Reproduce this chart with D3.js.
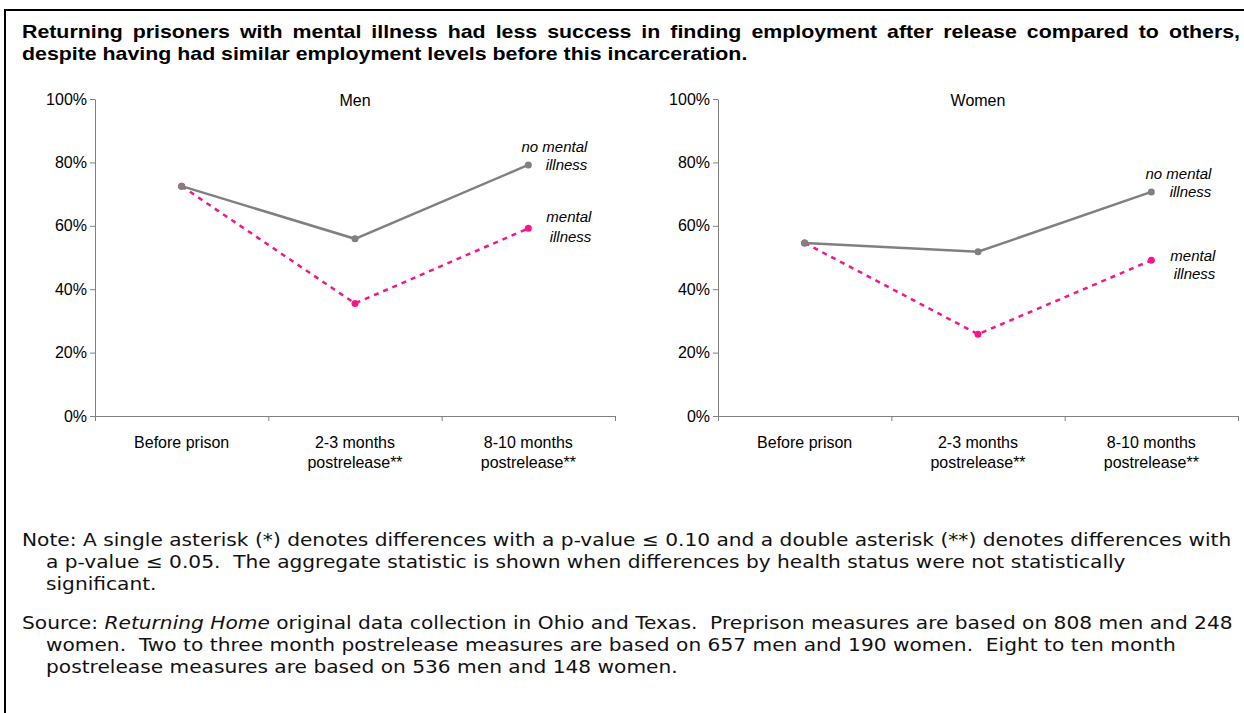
<!DOCTYPE html>
<html><head><meta charset="utf-8">
<script src="https://cdn.jsdelivr.net/npm/d3@7"></script>
<style>
body{margin:0;background:#fff;}
svg{display:block;}
text{white-space:pre;}
</style></head>
<body>
<svg id="chart" width="1244" height="713"></svg>
<script>
// ---- data ----
const categories = ["Before prison", "2-3 months|postrelease**", "8-10 months|postrelease**"];
const panels = ["Men", "Women"];
const menNoMentalIllness = [72.5, 55.9, 79.2];
const menMentalIllness = [72.5, 35.5, 59.2];
const womenNoMentalIllness = [54.6, 51.8, 70.7];
const womenMentalIllness = [54.6, 25.8, 49.1];
const yTicks = [0, 20, 40, 60, 80, 100];
const titleLines = [
  "Returning prisoners with mental illness had less success in finding employment after release compared to others,",
  "despite having had similar employment levels before this incarceration."
];
const noteLines = [
  "Note: A single asterisk (*) denotes differences with a p-value \u2264 0.10 and a double asterisk (**) denotes differences with",
  "a p-value \u2264 0.05.  The aggregate statistic is shown when differences by health status were not statistically",
  "significant."
];
const sourceLines = [
  [["Source: ", false], ["Returning Home", true], [" original data collection in Ohio and Texas.  Preprison measures are based on 808 men and 248", false]],
  [["women.  Two to three month postrelease measures are based on 657 men and 190 women.  Eight to ten month", false]],
  [["postrelease measures are based on 536 men and 148 women.", false]]
];

// ---- drawing ----
const svg = d3.select("#chart");
const GRAY = "#808080", PINK = "#f5168a";
const sans = "'Liberation Sans', Arial, sans-serif";
const noteFont = "'DejaVu Sans', sans-serif";
const FS = 16;

// frame
svg.append("path").attr("d", "M5,720 L5,10 L1250,10")
  .attr("fill", "none").attr("stroke", "#000").attr("stroke-width", 2);

// title: horizontally stretched so line 2 matches, line 1 justified
const titleG = svg.append("g").attr("font-family", sans).attr("font-weight", "bold").attr("font-size", 17.5).attr("fill", "#000");
const tNodes = titleLines.map((t, i) => titleG.append("text").attr("x", 0).attr("y", 38 + i * 22).text(t));
{
  const w2 = tNodes[1].node().getComputedTextLength();
  const s = 726 / w2;
  titleG.attr("transform", `translate(22,0) scale(${s},1)`);
  const w = tNodes[0].node().getComputedTextLength();
  const spaces = titleLines[0].split(" ").length - 1;
  tNodes[0].attr("word-spacing", (1218 / s - w) / spaces);
}

const panelData = [
  {name: panels[0], x0: 95, noMI: menNoMentalIllness, mi: menMentalIllness, noOff: [-13, 5], miOff: [-6, 14], lx: 59},
  {name: panels[1], x0: 718, noMI: womenNoMentalIllness, mi: womenMentalIllness, noOff: [-13, 5], miOff: [1, 19], lx: 60}
];
const W = 520, yTop = 99, yBot = 416;
const y = d3.scaleLinear().domain([0, 100]).range([yBot, yTop]);

panelData.forEach(p => {
  const g = svg.append("g");
  const xb = d3.scaleBand().domain(categories).range([p.x0, p.x0 + W]);
  const xl = d3.scaleLinear().domain([0, categories.length]).range([p.x0, p.x0 + W]);
  const cx = c => xb(c) + xb.bandwidth() / 2;

  // y axis
  const ya = g.append("g").attr("transform", `translate(${p.x0},0)`)
    .call(d3.axisLeft(y).tickValues(yTicks).tickFormat(d => d + "%").tickSize(5).tickSizeOuter(0).tickPadding(3));
  ya.select(".domain").attr("stroke", GRAY);
  ya.selectAll(".tick line").attr("stroke", GRAY);
  ya.selectAll(".tick text").attr("font-family", sans).attr("font-size", FS).attr("fill", "#000");

  // x axis (boundary ticks)
  const xa = g.append("g").attr("transform", `translate(0,${yBot})`)
    .call(d3.axisBottom(xl).tickValues(d3.range(categories.length + 1)).tickFormat("").tickSize(5).tickSizeOuter(0));
  xa.select(".domain").attr("stroke", GRAY);
  xa.selectAll(".tick line").attr("stroke", GRAY);

  // category labels
  categories.forEach(c => {
    const parts = c.split("|");
    const t = g.append("text").attr("x", cx(c)).attr("y", 448).attr("text-anchor", "middle")
      .attr("font-family", sans).attr("font-size", FS).attr("fill", "#000");
    parts.forEach((s, i) => t.append("tspan").attr("x", cx(c)).attr("dy", i === 0 ? 0 : 20).text(s));
  });

  // panel title
  g.append("text").attr("x", p.x0 + W / 2).attr("y", 106).attr("text-anchor", "middle")
    .attr("font-family", sans).attr("font-size", FS).attr("fill", "#000").text(p.name);

  const line = d3.line().x((d, i) => cx(categories[i])).y(d => y(d));

  // mental illness (pink dashed)
  g.append("path").datum(p.mi).attr("d", line).attr("fill", "none")
    .attr("stroke", PINK).attr("stroke-width", 2.5).attr("stroke-dasharray", "5,5");
  g.selectAll(".mi").data(p.mi).enter().append("circle")
    .attr("cx", (d, i) => cx(categories[i])).attr("cy", d => y(d)).attr("r", 3.5).attr("fill", PINK);

  // no mental illness (gray)
  g.append("path").datum(p.noMI).attr("d", line).attr("fill", "none")
    .attr("stroke", GRAY).attr("stroke-width", 2.5);
  g.selectAll(".nomi").data(p.noMI).enter().append("circle")
    .attr("cx", (d, i) => cx(categories[i])).attr("cy", d => y(d)).attr("r", 3.5).attr("fill", GRAY);

  // annotations
  const last = categories.length - 1;
  const lxPos = cx(categories[last]) + p.lx;
  const ann = (txt, yy, dx) => g.append("text").attr("x", lxPos + dx).attr("y", yy).attr("text-anchor", "end")
    .attr("font-family", sans).attr("font-style", "italic").attr("font-size", 15).attr("fill", "#000").text(txt);
  ann("no mental", y(p.noMI[last]) + p.noOff[0], 0);
  ann("illness", y(p.noMI[last]) + p.noOff[1], 0);
  ann("mental", y(p.mi[last]) + p.miOff[0], 4);
  ann("illness", y(p.mi[last]) + p.miOff[1], 4);
});

// notes: stretched horizontally so the first line spans the text block
const nG = svg.append("g").attr("font-family", noteFont).attr("font-size", 17.5).attr("fill", "#111");
const nNodes = noteLines.map((t, i) => nG.append("text").attr("y", 546 + i * 22).text(t));
const sNodes = sourceLines.map((parts, i) => {
  const t = nG.append("text").attr("y", 629 + i * 22);
  parts.forEach(([s, it]) => t.append("tspan").attr("font-style", it ? "italic" : "normal").text(s));
  return t;
});
{
  const s = 1210 / nNodes[0].node().getComputedTextLength();
  nG.attr("transform", `translate(22,0) scale(${s},1)`);
  const indent = 24 / s;
  nNodes.forEach((n, i) => n.attr("x", i === 0 ? 0 : indent));
  sNodes.forEach((n, i) => n.attr("x", i === 0 ? 0 : indent));
}
</script>
</body></html>
